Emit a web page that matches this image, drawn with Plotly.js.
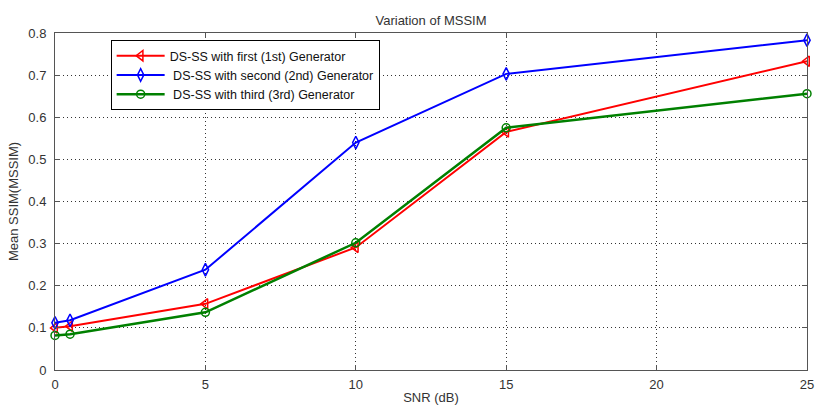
<!DOCTYPE html>
<html>
<head>
<meta charset="utf-8">
<script src="https://cdn.plot.ly/plotly-3.0.1.min.js"></script>
<style>html,body{margin:0;padding:0;background:#fff;}#chart{width:816px;height:407px;}</style>
</head>
<body>
<div id="chart"></div>
<script>
const snr = [0, 0.5, 5, 10, 15, 25];
const gen1 = [0.100, 0.104, 0.157, 0.291, 0.565, 0.733];
const gen2 = [0.112, 0.118, 0.238, 0.540, 0.703, 0.783];
const gen3 = [0.082, 0.085, 0.137, 0.302, 0.575, 0.656];
const names = ["DS-SS with first (1st) Generator", "\u00A0DS-SS with second (2nd) Generator", "\u00A0DS-SS with third (3rd) Generator"];
const xTicks = [0, 5, 10, 15, 20, 25];
const yTicks = [0, 0.1, 0.2, 0.3, 0.4, 0.5, 0.6, 0.7, 0.8];

const traces = [
  {x: snr, y: gen1, name: names[0], mode: 'lines+markers', cliponaxis: false,
   line: {color: '#ff0000', width: 2}, marker: {symbol: 'triangle-left-open', size: 9, color: '#ff0000', line: {width: 1.5}}},
  {x: snr, y: gen2, name: names[1], mode: 'lines+markers', cliponaxis: false,
   line: {color: '#0000ff', width: 2}, marker: {symbol: 'diamond-tall-open', size: 9, color: '#0000ff', line: {width: 1.5}}},
  {x: snr, y: gen3, name: names[2], mode: 'lines+markers', cliponaxis: false,
   line: {color: '#008000', width: 2.5}, marker: {symbol: 'circle-open', size: 8, color: '#008000', line: {width: 1.5}}}
];

const axisCommon = {
  showline: true, linecolor: '#555', linewidth: 1, mirror: 'ticks',
  ticks: 'inside', ticklen: 5, tickcolor: '#555',
  showgrid: true, gridcolor: '#333', griddash: '1px,3px', gridwidth: 1,
  zeroline: false, ticklabeloverflow: 'allow',
  tickfont: {family: 'Liberation Sans, Arial, sans-serif', size: 13, color: '#333'}
};

const layout = {
  width: 816, height: 407,
  margin: {l: 55, r: 9, t: 33, b: 37},
  paper_bgcolor: '#fff', plot_bgcolor: '#fff',
  font: {family: 'Liberation Sans, Arial, sans-serif', size: 13, color: '#333'},
  title: {text: 'Variation of MSSIM', x: 0.5, xref: 'paper', xanchor: 'center', y: 1, yref: 'paper', yanchor: 'bottom', pad: {b: 8},
          font: {size: 13, color: '#333'}},
  xaxis: Object.assign({}, axisCommon, {range: [0, 25], tickvals: xTicks, ticktext: xTicks.map(String), ticklabelstandoff: 2,
          title: {text: 'SNR (dB)', standoff: 2, font: {size: 13, color: '#333'}}}),
  yaxis: Object.assign({}, axisCommon, {range: [0, 0.8], tickvals: yTicks, ticktext: yTicks.map(v => v === 0 ? '0' : String(v)), ticklabelstandoff: 5,
          title: {text: 'Mean SSIM(MSSIM)', standoff: 6, font: {size: 13, color: '#333'}}}),
  legend: {x: 0.074, y: 0.979, xanchor: 'left', yanchor: 'top', bgcolor: '#fff', bordercolor: '#000', borderwidth: 1,
           font: {size: 12.5, color: '#111'}, tracegroupgap: 0, itemwidth: 48},
  showlegend: true
};

Plotly.newPlot('chart', traces, layout, {displayModeBar: false, staticPlot: true});
</script>
</body>
</html>
